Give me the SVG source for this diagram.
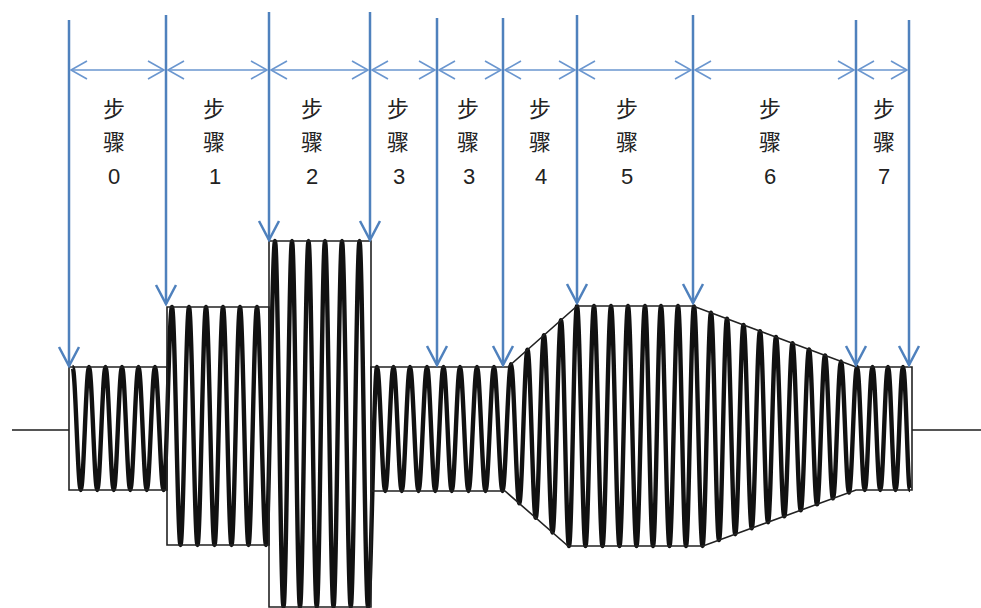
<svg xmlns="http://www.w3.org/2000/svg" width="981" height="608" viewBox="0 0 981 608">
<style>
.vl{stroke:#4f81bd;stroke-width:2.5;fill:none;marker-end:url(#ah)}
.hl{stroke:#6a96cf;stroke-width:1.6;fill:none;marker-start:url(#hh);marker-end:url(#hh)}
.cj{font-family:"Noto Sans CJK SC","Noto Sans CJK TC",sans-serif;font-size:22px;fill:#222;text-anchor:middle}
.dg{font-family:"Liberation Sans","DejaVu Sans",sans-serif;font-size:22px;fill:#222;text-anchor:middle}
.env{stroke:#222;stroke-width:1.6;fill:none}
.wave{stroke:#111;stroke-width:4.4;fill:none;stroke-linejoin:round}
.base{stroke:#555;stroke-width:2;fill:none}
</style>
<defs>
<marker id="ah" viewBox="-22 -12 24 24" markerWidth="24" markerHeight="24" refX="0" refY="0" orient="auto" markerUnits="userSpaceOnUse">
<path d="M-19,-10 L0,0 L-19,10" fill="none" stroke="#4f81bd" stroke-width="2.5"/>
</marker>
<marker id="hh" viewBox="-20 -12 22 24" markerWidth="22" markerHeight="24" refX="0" refY="0" orient="auto-start-reverse" markerUnits="userSpaceOnUse">
<path d="M-16,-9 L0,0 L-16,9" fill="none" stroke="#6a96cf" stroke-width="1.6"/>
</marker>
</defs>
<rect width="981" height="608" fill="#fff"/>

<g id="signal">
<path class="base" d="M12,430 H69 M912,430 H981"/>
<path class="wave" d="M72.5,367 C75.5,367 77.75,490 80.75,490 S86,367 89,367 S94.25,490 97.25,490 S102.5,367 105.5,367 S110.75,490 113.75,490 S119,367 122,367 S127.25,490 130.25,490 S135.5,367 138.5,367 S143.75,490 146.75,490 S152,367 155,367 S160.5,490 163.5,490 S169,307 172,307 S177.5,545 180.5,545 S186,307 189,307 S194.5,545 197.5,545 S203,307 206,307 S211.5,545 214.5,545 S220,307 223,307 S228.5,545 231.5,545 S237,307 240,307 S245.5,545 248.5,545 S254,307 257,307 S263,545 266,545 S272,241 275,241 S280.5,607 283.5,607 S289,241 292,241 S297,607 300,607 S305.5,241 308.5,241 S313.75,607 316.75,607 S322,241 325,241 S330.5,607 333.5,607 S339,241 342,241 S347.75,607 350.75,607 S356.5,241 359.5,241 S365,607 368,607 S374,367 377,367 S382.25,491 385.25,491 S390.5,367 393.5,367 S398.75,491 401.75,491 S407,367 410,367 S415.5,491 418.5,491 S424,367 427,367 S432.25,491 435.25,491 S440.5,367 443.5,367 S448.75,491 451.75,491 S457,367 460,367 S465.5,491 468.5,491 S474,367 477,367 S482.5,491 485.5,491 S491,367 494,367 S499.5,491 502.5,491 S508,364.3 511,364.3 S516.25,503.4 519.25,503.4 S524.5,349.8 527.5,349.8 S532.75,517.8 535.75,517.8 S541,335.2 544,335.2 S549.5,532.5 552.5,532.5 S558,320.1 561,320.1 S566,546 569,546 S574,306 577,306 S582.5,546 585.5,546 S591,306 594,306 S599.5,546 602.5,546 S608,306 611,306 S616.5,546 619.5,546 S625,306 628,306 S633.5,546 636.5,546 S642,306 645,306 S650,546 653,546 S658,306 661,306 S666.5,546 669.5,546 S675,306 678,306 S683,546 686,546 S691,306.4 694,306.4 S699.5,546 702.5,546 S708,312.7 711,312.7 S716,540.1 719,540.1 S724,318.7 727,318.7 S732.25,534.2 735.25,534.2 S740.5,324.9 743.5,324.9 S748.75,528.2 751.75,528.2 S757,331.1 760,331.1 S765,522.2 768,522.2 S773,337 776,337 S781.25,516.3 784.25,516.3 S789.5,343.2 792.5,343.2 S797.75,510.2 800.75,510.2 S806,349.4 809,349.4 S814,504.3 817,504.3 S822,355.4 825,355.4 S830,498.4 833,498.4 S838,361.4 841,361.4 S846,492.6 849,492.6 S854,367 857,367 S861.75,490 864.75,490 S869.5,367 872.5,367 S877.25,490 880.25,490 S885,367 888,367 S892.5,490 895.5,490 S900,367 903,367 S907.5,490 910,490"/>
<path class="env" d="M69,367 H167 V490 H69 Z"/>
<path class="env" d="M167,307 H269 V545 H167 Z"/>
<path class="env" d="M269,241 H371 V607 H269 Z"/>
<path class="env" d="M371,367 H508 L577,306 H693 L856,367 H912 V490 H856 L703,546 H568 L505,491 H371 Z"/>
</g>

<g id="connectors">
<path class="vl" d="M69,20 V366"/>
<path class="vl" d="M166,15 V304"/>
<path class="vl" d="M269,12 V240"/>
<path class="vl" d="M370,12 V240"/>
<path class="vl" d="M437,18 V365"/>
<path class="vl" d="M503,18 V365"/>
<path class="vl" d="M577,15 V303"/>
<path class="vl" d="M693,15 V303"/>
<path class="vl" d="M856,20 V365"/>
<path class="vl" d="M909,20 V365"/>
<path class="hl" d="M71,70 H164"/>
<path class="hl" d="M168,70 H267"/>
<path class="hl" d="M271,70 H368"/>
<path class="hl" d="M372,70 H435"/>
<path class="hl" d="M439,70 H501"/>
<path class="hl" d="M505,70 H575"/>
<path class="hl" d="M579,70 H691"/>
<path class="hl" d="M695,70 H854"/>
<path class="hl" d="M858,70 H907"/>
</g>

<g id="step0"><text class="cj" x="114" y="117">步</text><text class="cj" x="114" y="150">骤</text><text class="dg" x="114" y="184">0</text></g>
<g id="step1"><text class="cj" x="214" y="117">步</text><text class="cj" x="214" y="150">骤</text><text class="dg" x="215" y="184">1</text></g>
<g id="step2"><text class="cj" x="312" y="117">步</text><text class="cj" x="312" y="150">骤</text><text class="dg" x="312" y="184">2</text></g>
<g id="step3a"><text class="cj" x="398" y="117">步</text><text class="cj" x="398" y="150">骤</text><text class="dg" x="399" y="184">3</text></g>
<g id="step3b"><text class="cj" x="468" y="117">步</text><text class="cj" x="468" y="150">骤</text><text class="dg" x="469" y="184">3</text></g>
<g id="step4"><text class="cj" x="540" y="117">步</text><text class="cj" x="540" y="150">骤</text><text class="dg" x="541" y="184">4</text></g>
<g id="step5"><text class="cj" x="627" y="117">步</text><text class="cj" x="627" y="150">骤</text><text class="dg" x="627" y="184">5</text></g>
<g id="step6"><text class="cj" x="770" y="117">步</text><text class="cj" x="770" y="150">骤</text><text class="dg" x="770" y="184">6</text></g>
<g id="step7"><text class="cj" x="884" y="117">步</text><text class="cj" x="884" y="150">骤</text><text class="dg" x="884" y="184">7</text></g>
</svg>
